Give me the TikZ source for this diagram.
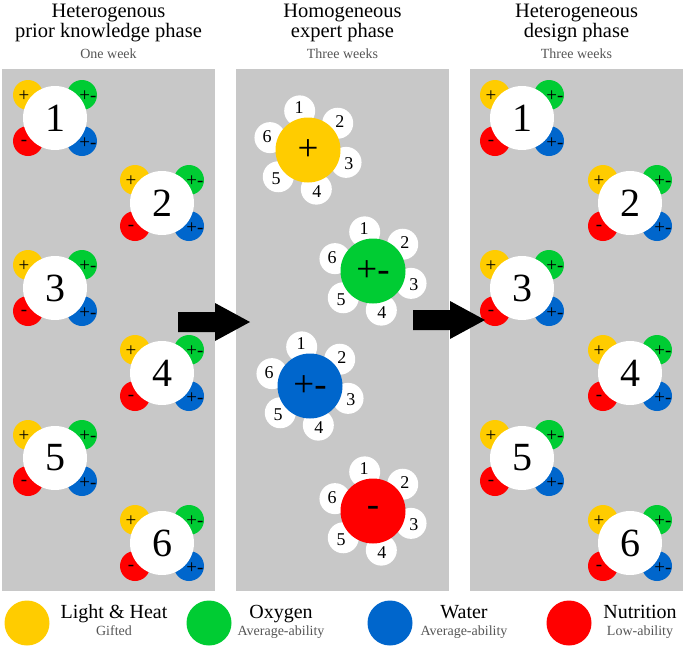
\documentclass[tikz,border=0pt]{standalone}
\usepackage{fontspec}
\setmainfont{Liberation Serif}
\definecolor{cY}{RGB}{255,204,0}
\definecolor{cG}{RGB}{0,204,51}
\definecolor{cB}{RGB}{0,102,204}
\definecolor{cR}{RGB}{255,0,0}
\definecolor{panel}{RGB}{200,200,200}
\definecolor{subgray}{RGB}{85,85,85}
\tikzset{
  member/.style={circle, minimum size=30pt, inner sep=0pt},
  tablebox/.style={circle, fill=white, minimum size=64pt, inner sep=0pt, font=\fontsize{40}{40}\selectfont},
  signlab/.style={inner sep=0pt, font=\fontsize{19}{19}\selectfont},
  seat/.style={circle, fill=white, minimum size=31pt, inner sep=0pt},
  seatnum/.style={inner sep=0pt, font=\fontsize{18}{18}\selectfont},
  expertbox/.style={circle, minimum size=65pt, inner sep=0pt, font=\fontsize{37}{37}\selectfont},
  headtxt/.style={anchor=base, inner sep=0pt, font=\fontsize{20.5}{22}\selectfont},
  subtxt/.style={anchor=base, inner sep=0pt, text=subgray, font=\fontsize{14}{15}\selectfont},
  legcirc/.style={circle, minimum size=45pt, inner sep=0pt},
  legtxt/.style={anchor=base, inner sep=0pt, font=\fontsize{20}{22}\selectfont},
  legsub/.style={anchor=base, inner sep=0pt, text=subgray, font=\fontsize{14}{15}\selectfont},
}
\begin{document}
\begin{tikzpicture}[x=1pt,y=-1pt]
\useasboundingbox (0,0) rectangle (685,648);
% panels
\fill[panel] (2,69) rectangle (215,591);
\fill[panel] (236,69) rectangle (449,591);
\fill[panel] (470,69) rectangle (683,591);
% headers
\node[headtxt] (h1a) at (108.5,17) {Heterogenous};
\node[headtxt] (h1b) at (108.5,37) {prior knowledge phase};
\node[subtxt] (h1c) at (108.5,58) {One week};
\node[headtxt] (h2a) at (342.5,17) {Homogeneous};
\node[headtxt] (h2b) at (342.5,37) {expert phase};
\node[subtxt] (h2c) at (342.5,58) {Three weeks};
\node[headtxt] (h3a) at (576.5,17) {Heterogeneous};
\node[headtxt] (h3b) at (576.5,37) {design phase};
\node[subtxt] (h3c) at (576.5,58) {Three weeks};
% heterogeneous groups
\foreach \p/\n/\x/\y in {L/1/55/118, L/2/162/203, L/3/55/288, L/4/162/373, L/5/55/458, L/6/162/543,
                         R/1/522/118, R/2/630/203, R/3/522/288, R/4/630/373, R/5/522/458, R/6/630/543} {
  \node[member, fill=cY] (\p\n y) at (\x-27,\y-23) {};
  \node[member, fill=cG] (\p\n g) at (\x+27,\y-23) {};
  \node[member, fill=cR] (\p\n r) at (\x-27,\y+23) {};
  \node[member, fill=cB] (\p\n b) at (\x+27,\y+23) {};
  \node[tablebox] (\p\n) at (\x,\y) {\n};
  \node[signlab] (\p\n yl) at (\x-31,\y-22) {+};
  \node[signlab] (\p\n gl) at (\x+33,\y-22) {+-};
  \node[signlab] (\p\n rl) at (\x-31,\y+25) {-};
  \node[signlab] (\p\n bl) at (\x+33,\y+25) {+-};
}
% expert groups
\foreach \e/\x/\y/\c/\s in {Y/308/150/cY/+, G/373/271/cG/+-, B/310/386/cB/+-, R/373/511/cR/-} {
  \foreach \k in {1,...,6} {
    \node[seat] (E\e s\k) at ({\x+40*cos(60*\k-162)},{\y+40*sin(60*\k-162)}) {};
  }
  \node[expertbox, fill=\c] (E\e) at (\x,\y) {\s};
  \foreach \k in {1,...,6} {
    \node[seatnum] (E\e n\k) at ({\x+43*cos(60*\k-162)},{\y+43*sin(60*\k-162)}) {\k};
  }
}
% block arrows
\fill[black] (178,312) -- (215,312) -- (215,303) -- (250,322) -- (215,341) -- (215,332) -- (178,332) -- cycle;
\fill[black] (413,310) -- (450,310) -- (450,301) -- (485,320) -- (450,339) -- (450,330) -- (413,330) -- cycle;
% legend
\node[legcirc, fill=cY] (lY) at (27,623) {};
\node[legtxt] (lYt) at (114,618) {Light \& Heat};
\node[legsub] (lYs) at (114,635) {Gifted};
\node[legcirc, fill=cG] (lG) at (209,623) {};
\node[legtxt] (lGt) at (281,618) {Oxygen};
\node[legsub] (lGs) at (281,635) {Average-ability};
\node[legcirc, fill=cB] (lB) at (390,623) {};
\node[legtxt] (lBt) at (464,618) {Water};
\node[legsub] (lBs) at (464,635) {Average-ability};
\node[legcirc, fill=cR] (lR) at (569,623) {};
\node[legtxt] (lRt) at (640,618) {Nutrition};
\node[legsub] (lRs) at (640,635) {Low-ability};
\end{tikzpicture}
\end{document}
